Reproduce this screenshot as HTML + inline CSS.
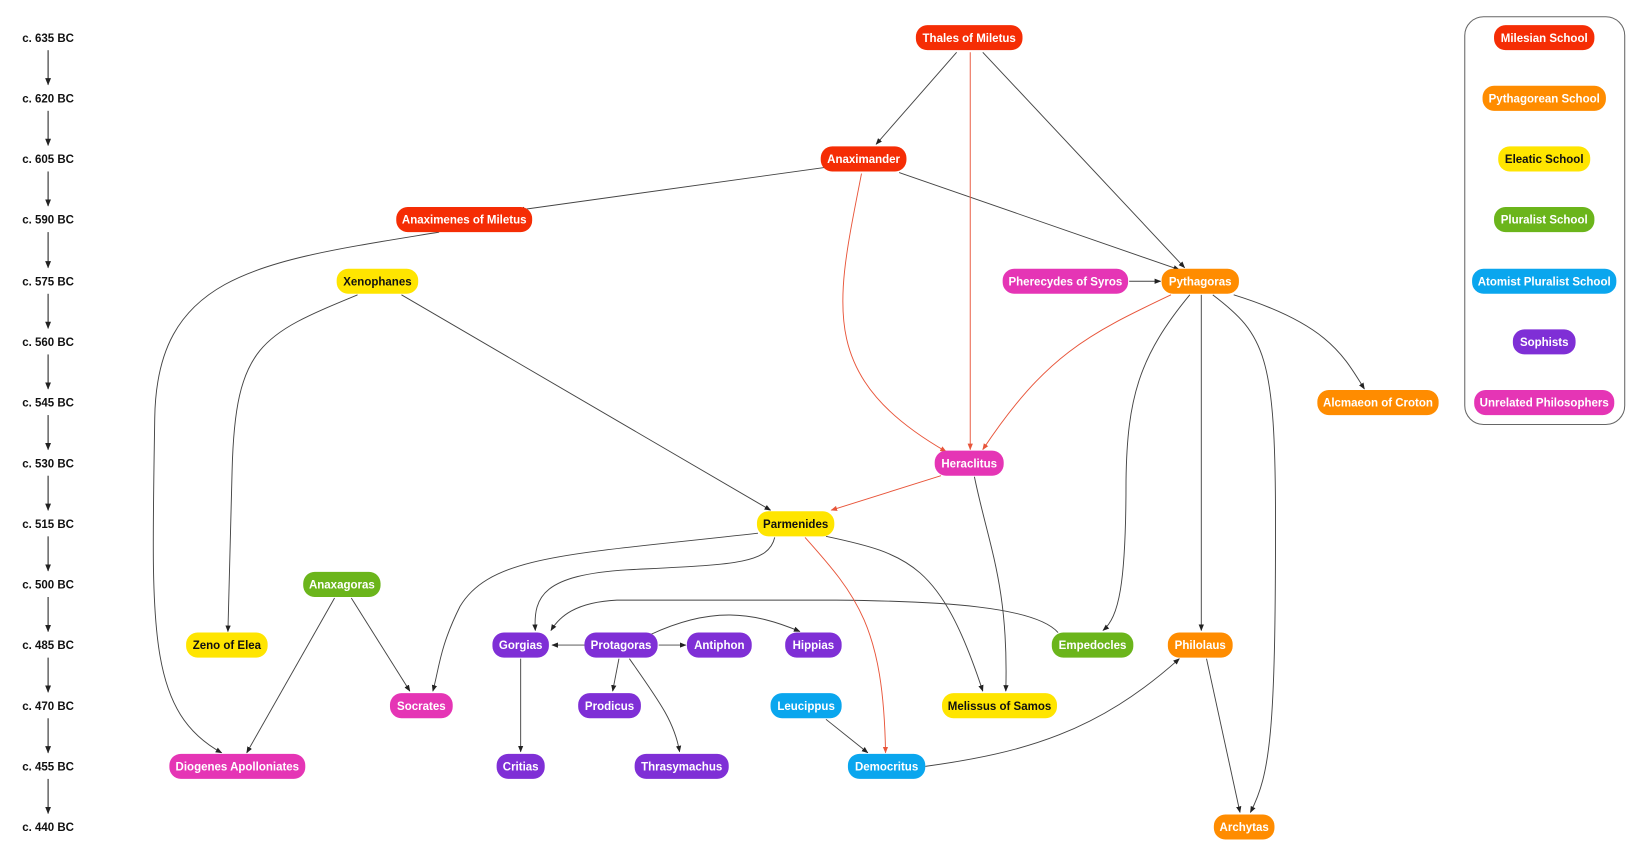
<!DOCTYPE html>
<html><head><meta charset="utf-8"><style>
html,body{margin:0;padding:0;background:#fff;}
svg{display:block;}
text{font-family:"Liberation Sans",Arial,sans-serif;font-weight:bold;font-size:11px;}
</style></head><body>
<svg width="1631" height="850" viewBox="0 0 1560 813" preserveAspectRatio="none" xmlns="http://www.w3.org/2000/svg">
<defs>
<marker id="a" viewBox="0 0 10 10" refX="9" refY="5" markerWidth="7" markerHeight="7" orient="auto"><path d="M0,1L10,5L0,9z" fill="#222"/></marker>
<marker id="r" viewBox="0 0 10 10" refX="9" refY="5" markerWidth="7" markerHeight="7" orient="auto"><path d="M0,1L10,5L0,9z" fill="#e8553a"/></marker>
</defs>
<g stroke="#222" stroke-width="1" fill="none" marker-end="url(#a)">
<path d="M46,48V81"/><path d="M46,106V139"/><path d="M46,164V197"/><path d="M46,222V256"/><path d="M46,281V314"/><path d="M46,339V372"/><path d="M46,397V430"/><path d="M46,455V488"/><path d="M46,513V546"/><path d="M46,571V604"/><path d="M46,629V662"/><path d="M46,687V720"/><path d="M46,745V778"/>
</g>
<g font-size="11" fill="#111" text-anchor="middle">
<text x="46" y="40">c. 635 BC</text><text x="46" y="98">c. 620 BC</text><text x="46" y="156">c. 605 BC</text><text x="46" y="214">c. 590 BC</text><text x="46" y="273">c. 575 BC</text><text x="46" y="331">c. 560 BC</text><text x="46" y="389">c. 545 BC</text><text x="46" y="447">c. 530 BC</text><text x="46" y="505">c. 515 BC</text><text x="46" y="563">c. 500 BC</text><text x="46" y="621">c. 485 BC</text><text x="46" y="679">c. 470 BC</text><text x="46" y="737">c. 455 BC</text><text x="46" y="795">c. 440 BC</text>
</g>
<g stroke="#444" stroke-width="0.9" fill="none" marker-end="url(#a)">
<path d="M915,50L838,138"/>
<path d="M940,50L1133,256"/>
<path d="M790,160L496,201"/>
<path d="M860,165L1128,258"/>
<path d="M420,222C250,250 150,260 148,400C145,600 140,680 212,720"/>
<path d="M342,282C250,320 225,330 222,450L218,604"/>
<path d="M384,282L737,488"/>
<path d="M1080,269L1110,269"/>
<path d="M1138,282C1090,340 1078,380 1077,460C1077,560 1070,590 1055,603"/>
<path d="M1149,282L1149,603"/>
<path d="M1160,282C1210,320 1220,340 1220,500C1220,700 1215,740 1196,777"/>
<path d="M1180,282C1270,310 1285,340 1305,372"/>
<path d="M932,456C945,520 965,560 962,661"/>
<path d="M725,510C550,530 470,530 440,580C420,620 420,640 414,661"/>
<path d="M741,514C735,540 700,540 600,545C520,550 510,570 512,603"/>
<path d="M790,513C870,530 900,540 940,661"/>
<path d="M1012,605C990,580 900,575 800,574L590,574C550,576 535,590 527,603"/>
<path d="M560,617L528,617"/>
<path d="M630,617L656,617"/>
<path d="M622,607C680,580 720,585 765,604"/>
<path d="M592,630L586,661"/>
<path d="M602,630C630,670 645,690 650,719"/>
<path d="M498,630L498,719"/>
<path d="M336,572L392,661"/>
<path d="M320,572L236,720"/>
<path d="M790,688L830,720"/>
<path d="M885,733C980,720 1050,700 1128,630"/>
<path d="M1154,630L1186,777"/>
</g>
<g stroke="#e8553a" stroke-width="0.9" fill="none" marker-end="url(#r)">
<path d="M928,50L928,430"/>
<path d="M824,166C800,290 780,360 905,432"/>
<path d="M1120,282C1040,320 1000,340 940,430"/>
<path d="M900,455L795,488"/>
<path d="M770,514C820,570 845,600 847,720"/>
</g>
<rect x="1401" y="16" width="153" height="390" rx="18" fill="none" stroke="#666" stroke-width="1"/>
<g text-anchor="middle">
<!-- nodes: rect then text -->
<g fill="#f52d05"><rect x="876" y="24" width="102" height="24" rx="11"/><rect x="785" y="140" width="82" height="24" rx="11"/><rect x="379" y="198" width="130" height="24" rx="11"/><rect x="1429" y="24" width="96" height="24" rx="11"/></g>
<g fill="#ff8c00"><rect x="1111" y="257" width="74" height="24" rx="11"/><rect x="1260" y="373" width="116" height="24" rx="11"/><rect x="1117" y="605" width="62" height="24" rx="11"/><rect x="1161" y="779" width="58" height="24" rx="11"/><rect x="1418" y="82" width="118" height="24" rx="11"/></g>
<g fill="#ffe500"><rect x="322" y="257" width="78" height="24" rx="11"/><rect x="724" y="489" width="74" height="24" rx="11"/><rect x="178" y="605" width="78" height="24" rx="11"/><rect x="901" y="663" width="110" height="24" rx="11"/><rect x="1433" y="140" width="88" height="24" rx="11"/></g>
<g fill="#6bb51b"><rect x="290" y="547" width="74" height="24" rx="11"/><rect x="1006" y="605" width="78" height="24" rx="11"/><rect x="1429" y="198" width="96" height="24" rx="11"/></g>
<g fill="#0aa6ee"><rect x="737" y="663" width="68" height="24" rx="11"/><rect x="811" y="721" width="74" height="24" rx="11"/><rect x="1408" y="257" width="138" height="24" rx="11"/></g>
<g fill="#7f2fd6"><rect x="471" y="605" width="54" height="24" rx="11"/><rect x="559" y="605" width="70" height="24" rx="11"/><rect x="657" y="605" width="62" height="24" rx="11"/><rect x="751" y="605" width="54" height="24" rx="11"/><rect x="553" y="663" width="60" height="24" rx="11"/><rect x="475" y="721" width="46" height="24" rx="11"/><rect x="607" y="721" width="90" height="24" rx="11"/><rect x="1447" y="315" width="60" height="24" rx="11"/></g>
<g fill="#e535b5"><rect x="959" y="257" width="120" height="24" rx="11"/><rect x="894" y="431" width="66" height="24" rx="11"/><rect x="373" y="663" width="60" height="24" rx="11"/><rect x="162" y="721" width="130" height="24" rx="11"/><rect x="1410" y="373" width="134" height="24" rx="11"/></g>
<g fill="#fff">
<text x="927" y="40">Thales of Miletus</text><text x="826" y="156">Anaximander</text><text x="444" y="214">Anaximenes of Miletus</text><text x="1477" y="40">Milesian School</text>
<text x="1148" y="273">Pythagoras</text><text x="1318" y="389">Alcmaeon of Croton</text><text x="1148" y="621">Philolaus</text><text x="1190" y="795">Archytas</text><text x="1477" y="98">Pythagorean School</text>
<text x="327" y="563">Anaxagoras</text><text x="1045" y="621">Empedocles</text><text x="1477" y="214">Pluralist School</text>
<text x="771" y="679">Leucippus</text><text x="848" y="737">Democritus</text><text x="1477" y="273">Atomist Pluralist School</text>
<text x="498" y="621">Gorgias</text><text x="594" y="621">Protagoras</text><text x="688" y="621">Antiphon</text><text x="778" y="621">Hippias</text><text x="583" y="679">Prodicus</text><text x="498" y="737">Critias</text><text x="652" y="737">Thrasymachus</text><text x="1477" y="331">Sophists</text>
<text x="1019" y="273">Pherecydes of Syros</text><text x="927" y="447">Heraclitus</text><text x="403" y="679">Socrates</text><text x="227" y="737">Diogenes Apolloniates</text><text x="1477" y="389">Unrelated Philosophers</text>
</g>
<g fill="#111">
<text x="361" y="273">Xenophanes</text><text x="761" y="505">Parmenides</text><text x="217" y="621">Zeno of Elea</text><text x="956" y="679">Melissus of Samos</text><text x="1477" y="156">Eleatic School</text>
</g>
</g>
</svg>
</body></html>
